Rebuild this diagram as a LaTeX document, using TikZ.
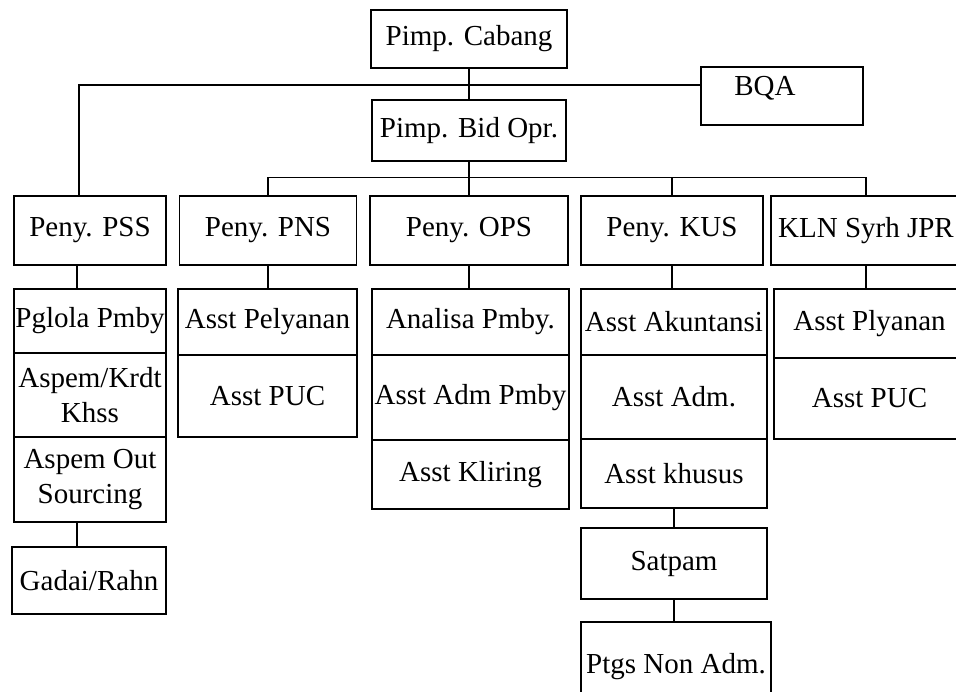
\documentclass[tikz,border=0pt]{standalone}
\usepackage{fontspec}
\setmainfont{Liberation Serif}
\usetikzlibrary{calc}

\begin{document}
\begin{tikzpicture}[x=1pt,y=-1pt,line width=1.3pt,font=\fontsize{29}{35}\selectfont,
  box/.style={draw,rectangle,inner sep=0pt,align=center}]
\clip (0,0) rectangle (956,691);
\node[box,minimum width=196,minimum height=58] (cabang) at (469,39) {Pimp. Cabang};
\node[box,minimum width=194,minimum height=61] (bidopr) at (469,130.5) {Pimp. Bid Opr.};
\node[box,minimum width=162,minimum height=58,
      label={[xshift=-17pt,yshift=8pt]center:BQA}] (bqa) at (782,96) {};
\foreach \n/\x/\w/\t in {pss/90/152/Peny. PSS, pns/268/177/Peny. PNS, ops/469/198/Peny. OPS,
                         kus/672/182/Peny. KUS, kln/866/190/KLN Syrh JPR}
 \node[box,minimum width=\w,minimum height=69] (\n) at (\x,230.5) {\t};
\coordinate (bqajoin) at (bqa.west |- 0,85);
\coordinate (pssjoin) at ([xshift=-11pt]pss.north);
\coordinate (bar) at ([yshift=18pt]pns.north);
\draw (cabang.south) -- (bidopr.north);
\draw (bqajoin) -| (pssjoin);
\draw (bidopr.south) -- (ops.north);
\draw (pns.north) -- (bar) -| (kln.north);
\draw (kus.north) -- (kus.north |- bar);

\node[box,minimum width=152,minimum height=64] (pglola) at (90,321) {Pglola Pmby};
\node[box,minimum width=152,minimum height=84] (krdt) at (90,395) {Aspem/Krdt\\Khss};
\node[box,minimum width=152,minimum height=85] (outsrc) at (90,479.5) {Aspem Out\\Sourcing};
\node[box,minimum width=154,minimum height=67] (gadai) at (89,580.5) {Gadai/Rahn};

\node[box,minimum width=179,minimum height=66] (pelyanan) at (267.5,322) {Asst Pelyanan};
\node[box,minimum width=179,minimum height=82] (pucpns) at (267.5,396) {Asst PUC};

\node[box,minimum width=197,minimum height=66] (analisa) at (470.5,322) {Analisa Pmby.};
\node[box,minimum width=197,minimum height=85] (admpmby) at (470.5,397.5) {Asst Adm Pmby};
\node[box,minimum width=197,minimum height=69] (kliring) at (470.5,474.5) {Asst Kliring};

\node[box,minimum width=186,minimum height=66] (akuntansi) at (674,322) {Asst Akuntansi};
\node[box,minimum width=186,minimum height=84] (adm) at (674,397) {Asst Adm.};
\node[box,minimum width=186,minimum height=69] (khusus) at (674,473.5) {Asst khusus};
\node[box,minimum width=186,minimum height=71] (satpam) at (674,563.5) {Satpam};
\node[box,minimum width=190,minimum height=90] (ptgs) at (676,667) {Ptgs Non Adm.};

\node[box,minimum width=191,minimum height=69] (plyanan) at (869.5,323.5) {Asst Plyanan};
\node[box,minimum width=191,minimum height=81] (pucjpr) at (869.5,398.5) {Asst PUC};

\draw ([xshift=-13pt]pss.south) -- ([xshift=-13pt]pss.south |- pglola.north);
\draw ([xshift=-13pt]outsrc.south) -- ([xshift=-13pt]outsrc.south |- gadai.north);
\draw (pns.south) -- (pns.south |- pelyanan.north);
\draw (ops.south) -- (ops.south |- analisa.north);
\draw (kus.south) -- (kus.south |- akuntansi.north);
\draw (kln.south) -- (kln.south |- plyanan.north);
\draw (khusus.south) -- (satpam.north);
\draw (satpam.south) -- (satpam.south |- ptgs.north);
\end{tikzpicture}
\end{document}
